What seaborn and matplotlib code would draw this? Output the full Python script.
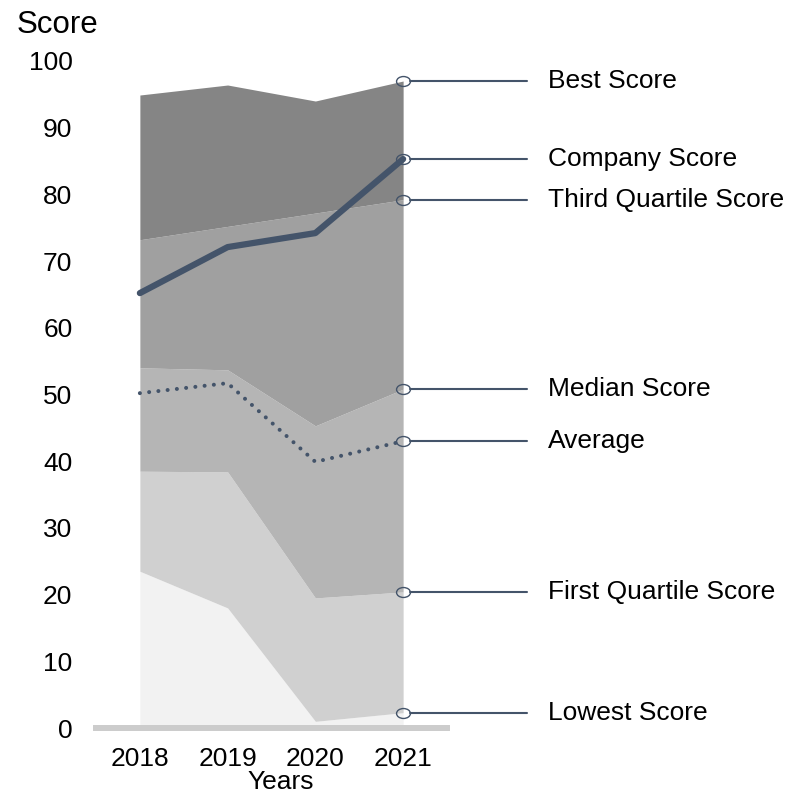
import numpy as np
import pandas as pd
import matplotlib
matplotlib.use("Agg")
import matplotlib.pyplot as plt
import seaborn as sns
from matplotlib.path import Path
from matplotlib.markers import MarkerStyle

# Données
annees = [2018, 2019, 2020, 2021]
score_min = [23.5, 18.0, 1.0, 2.3]
premier_quartile = [38.5, 38.4, 19.5, 20.4]
mediane = [54.0, 53.7, 45.3, 50.8]
troisieme_quartile = [73.2, 75.2, 77.2, 79.2]
meilleur_score = [94.9, 96.4, 94.0, 97.0]
score_entreprise = [65.2, 72.1, 74.2, 85.3]
moyenne = [50.2, 51.7, 39.9, 43.0]

etiquettes = ["Best Score", "Company Score", "Third Quartile Score",
              "Median Score", "Average", "First Quartile Score", "Lowest Score"]

couleur_ligne = "#44546a"
couleurs_zones = ["#f2f2f2", "#d0d0d0", "#b5b5b5", "#a0a0a0", "#858585"]

sns.set_theme(style="white")
plt.rcParams["font.family"] = ["Liberation Sans", "DejaVu Sans"]
plt.rcParams["text.color"] = "black"
plt.rcParams["axes.labelcolor"] = "black"

df = pd.DataFrame({
    "Years": annees,
    "Lowest": score_min,
    "Q1": premier_quartile,
    "Median": mediane,
    "Q3": troisieme_quartile,
    "Best": meilleur_score,
    "Company": score_entreprise,
    "Average": moyenne,
})

fig = plt.figure(figsize=(7.9, 7.95), dpi=100)
ax = fig.add_axes([96 / 790, 1 - 728 / 795, 351 / 790, 667 / 795])

# Zones empilées (bandes entre les quantiles)
bornes = [np.zeros(len(annees)), df["Lowest"], df["Q1"], df["Median"], df["Q3"], df["Best"]]
for i, c in enumerate(couleurs_zones):
    ax.fill_between(df["Years"], bornes[i], bornes[i + 1], color=c, lw=0, zorder=1)

# Lignes entreprise et moyenne
sns.lineplot(data=df, x="Years", y="Company", ax=ax, color=couleur_ligne,
             lw=4.5, solid_capstyle="round", zorder=3)
sns.lineplot(data=df, x="Years", y="Average", ax=ax, color=couleur_ligne,
             lw=2.9, dashes=False, zorder=3)
ax.lines[-1].set_linestyle((0, (0.01, 2.3)))
ax.lines[-1].set_dash_capstyle("round")

# Ellipses + lignes de rappel vers les étiquettes
cercle = Path.unit_circle()
ellipse = Path(cercle.vertices * np.array([1.4, 1.0]), cercle.codes)
valeurs_fin = [meilleur_score[-1], score_entreprise[-1], troisieme_quartile[-1],
               mediane[-1], moyenne[-1], premier_quartile[-1], score_min[-1]]
x_fin = annees[-1]
for val, txt in zip(valeurs_fin, etiquettes):
    ax.plot([x_fin], [val], marker=MarkerStyle(ellipse), ms=10, mfc="none",
            mec=couleur_ligne, mew=1.0, clip_on=False, zorder=4)
    ax.plot([x_fin + 0.08, x_fin + 1.41], [val, val], color=couleur_ligne,
            lw=1.5, clip_on=False, zorder=4)
    ax.text(x_fin + 1.65, val, txt, fontsize=19, va="center", ha="left",
            color="black", clip_on=False)

ax.set_xlim(2017.5, 2021.5)
ax.set_ylim(0, 100)
ax.set_xticks(annees)
ax.set_yticks(range(0, 101, 10))
ax.tick_params(axis="both", length=0, labelsize=19, colors="black")
ax.tick_params(axis="y", pad=17)
ax.tick_params(axis="x", pad=14)

for s in ["top", "right", "left"]:
    ax.spines[s].set_visible(False)
ax.spines["bottom"].set_color("#cccccc")
ax.spines["bottom"].set_linewidth(4.3)
ax.spines["bottom"].set_zorder(5)

ax.set_ylabel("")
ax.set_xlabel("Years", fontsize=19, color="black")
ax.xaxis.label.set_va("baseline")
ax.xaxis.set_label_coords((281 - 96) / 351, (728 - 789) / 667)

fig.text(17 / 790, 1 - 33 / 795, "Score", fontsize=22.5, va="baseline", ha="left",
         color="black")

fig.savefig("out.png", dpi=100, facecolor="white")
